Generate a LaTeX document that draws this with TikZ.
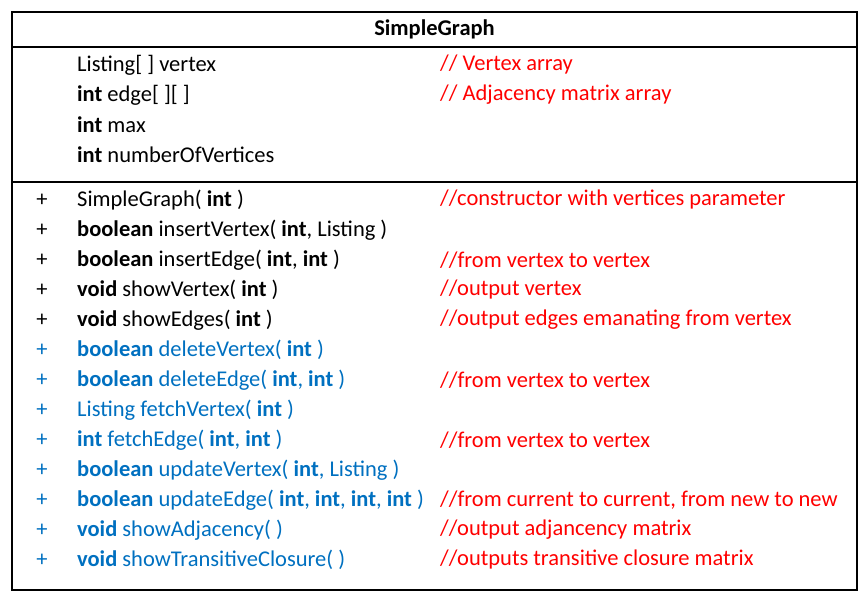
\documentclass[tikz,border=0pt]{standalone}
\usepackage{fontspec}
\setmainfont{Carlito}
\definecolor{wblue}{RGB}{0,112,192}
\definecolor{wred}{RGB}{255,0,0}
\begin{document}
\begin{tikzpicture}[x=1pt,y=-1pt,
 txt/.style={anchor=west,inner sep=0pt,font=\fontsize{22.5}{26}\selectfont},
 cmt/.style={txt,text=wred},
 bluet/.style={txt,text=wblue},
 frame/.style={draw=black,line width=1.6pt}]
\useasboundingbox (0,0) rectangle (865,601);
\draw[frame] (12,12) rectangle (857,590);
\draw[frame] (12,47) -- (857,47);
\draw[frame] (12,182) -- (857,182);
\node[txt,anchor=center] (title) at (434.5,29) {\textbf{SimpleGraph}};
\node[txt] (a1) at (77,65) {Listing[ ] vertex};
\node[txt] (a2) at (77,95) {\textbf{int} edge[ ][ ]};
\node[txt] (a3) at (77,125) {\textbf{int} max};
\node[txt] (a4) at (77,155) {\textbf{int} numberOfVertices};
\node[cmt] (c1) at (440,65) {// Vertex array};
\node[cmt] (c2) at (440,95) {// Adjacency matrix array};
\foreach \i/\t/\s/\c in {
 0/{SimpleGraph( \textbf{int} )}/txt/{//constructor with vertices parameter},
 1/{\textbf{boolean} insertVertex( \textbf{int}, Listing )}/txt/{},
 2/{\textbf{boolean} insertEdge( \textbf{int}, \textbf{int} )}/txt/{//from vertex to vertex},
 3/{\textbf{void} showVertex( \textbf{int} )}/txt/{//output vertex},
 4/{\textbf{void} showEdges( \textbf{int} )}/txt/{//output edges emanating from vertex},
 5/{\textbf{boolean} deleteVertex( \textbf{int} )}/bluet/{},
 6/{\textbf{boolean} deleteEdge( \textbf{int}, \textbf{int} )}/bluet/{//from vertex to vertex},
 7/{Listing fetchVertex( \textbf{int} )}/bluet/{},
 8/{\textbf{int} fetchEdge( \textbf{int}, \textbf{int} )}/bluet/{//from vertex to vertex},
 9/{\textbf{boolean} updateVertex( \textbf{int}, Listing )}/bluet/{},
 10/{\textbf{boolean} updateEdge( \textbf{int}, \textbf{int}, \textbf{int}, \textbf{int} )}/bluet/{//from current to current, from new to new},
 11/{\textbf{void} showAdjacency( )}/bluet/{//output adjancency matrix},
 12/{\textbf{void} showTransitiveClosure( )}/bluet/{//outputs transitive closure matrix}}{
 \node[\s,anchor=center] (p\i) at (42,200+30*\i) {+};
 \node[\s] (m\i) at (77,200+30*\i) {\t};
 \node[cmt] (k\i) at (440,200+30*\i) {\c};
}
\end{tikzpicture}
\end{document}
